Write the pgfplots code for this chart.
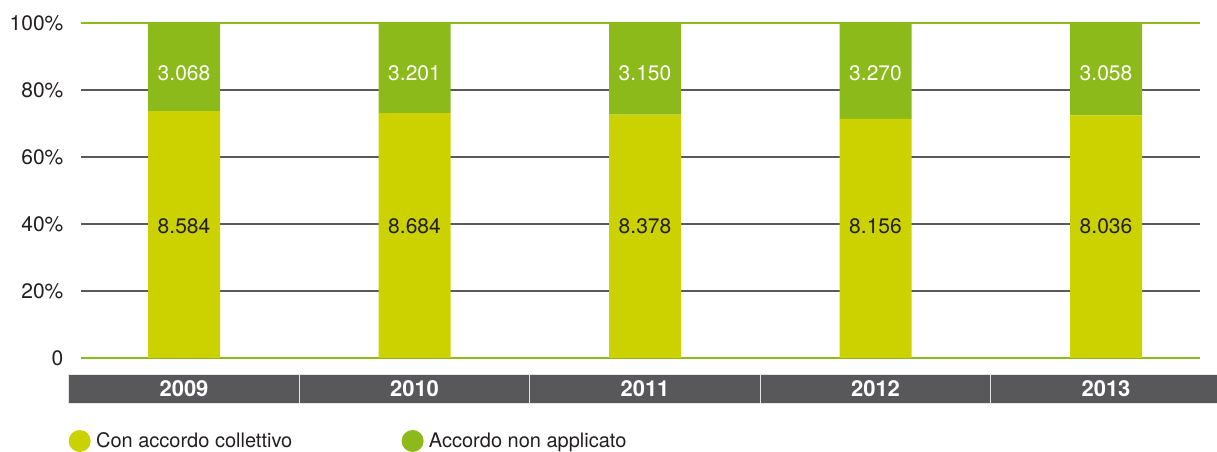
\documentclass[border=0pt]{standalone}
\usepackage{pgfplots}
\usepackage{pgfplotstable}
\pgfplotsset{compat=1.18}
\usepackage{fontspec}
\setmainfont{TeX Gyre Heros}
\definecolor{cyel}{RGB}{204,210,0}
\definecolor{cgreen}{RGB}{140,186,26}
\definecolor{cband}{RGB}{88,88,90}
\definecolor{cgrid}{RGB}{90,90,92}
\definecolor{ctext}{RGB}{35,31,32}
\pgfplotstableread{
x a b la lb pa pb
0 8584 3068 8.584 3.068 39.4 85.1
1 8684 3201 8.684 3.201 39.4 85.1
2 8378 3150 8.378 3.150 39.4 85.1
3 8156 3270 8.156 3.270 39.4 85.1
4 8036 3058 8.036 3.058 39.4 85.1
}\datatable
\newcommand{\lblfont}{\fontsize{15.75}{18}\selectfont}
\begin{document}
\begin{tikzpicture}
\useasboundingbox (-60.75pt,-70.5pt) rectangle (852pt,268.5pt);
\pgfplotsset{
  common/.style={
    scale only axis, width=839.25pt, height=251.25pt,
    xmin=-0.4469, xmax=4.4078, ymin=0, ymax=100,
    clip=false,
  }
}
\begin{axis}[
  common,
  ybar stacked, bar width=54pt,
  axis line style={draw=none},
  major tick length=0pt,
  ytick={20,40,60,80},
  yticklabels={20\%,40\%,60\%,80\%},
  extra y ticks={0,100},
  extra y tick labels={0,100\%},
  ymajorgrids,
  grid style={color=cgrid, line width=0.9pt},
  extra y tick style={ymajorgrids, grid style={color=cgreen, line width=1.1pt}},
  yticklabel style={font=\lblfont, text=ctext, anchor=east, inner sep=0pt, xshift=-13pt},
  xtick={0,1,2,3,4},
  xticklabels={2009,2010,2011,2012,2013},
  xticklabel style={font=\fontsize{16.5}{18}\selectfont\bfseries, text=white, fill=cband,
    draw=white!80!gray, line width=0.75pt, inner sep=0pt, minimum width=172.9pt,
    minimum height=21.75pt, anchor=north, yshift=-12pt},
  legend style={at={(axis description cs:0,0)}, anchor=west, xshift=-9.4pt, yshift=-62.25pt,
    draw=none, fill=none, inner sep=0pt, legend columns=2,
    font=\fontsize{15}{18}\selectfont, text=ctext,
    /tikz/every odd column/.append style={column sep=2pt},
    /tikz/every even column/.append style={column sep=80pt}},
]
\addplot[fill=cyel, draw=none,
  legend image code/.code={\fill[cyel] (0pt,0pt) circle (8.25pt);}]
  table[x=x, y expr={\thisrow{a}/(\thisrow{a}+\thisrow{b})*100}] {\datatable};
\addlegendentry{Con accordo collettivo}
\addplot[fill=cgreen, draw=none,
  legend image code/.code={\fill[cgreen] (0pt,0pt) circle (8.25pt);}]
  table[x=x, y expr={\thisrow{b}/(\thisrow{a}+\thisrow{b})*100}] {\datatable};
\addlegendentry{Accordo non applicato}
\end{axis}
\begin{axis}[common, hide axis]
\addplot[draw=none, nodes near coords, point meta=explicit symbolic,
  every node near coord/.style={anchor=center, font=\lblfont, text=ctext}]
  table[x=x, y=pa, meta=la] {\datatable};
\addplot[draw=none, nodes near coords, point meta=explicit symbolic,
  every node near coord/.style={anchor=center, font=\lblfont, text=white}]
  table[x=x, y=pb, meta=lb] {\datatable};
\end{axis}
\end{tikzpicture}
\end{document}
